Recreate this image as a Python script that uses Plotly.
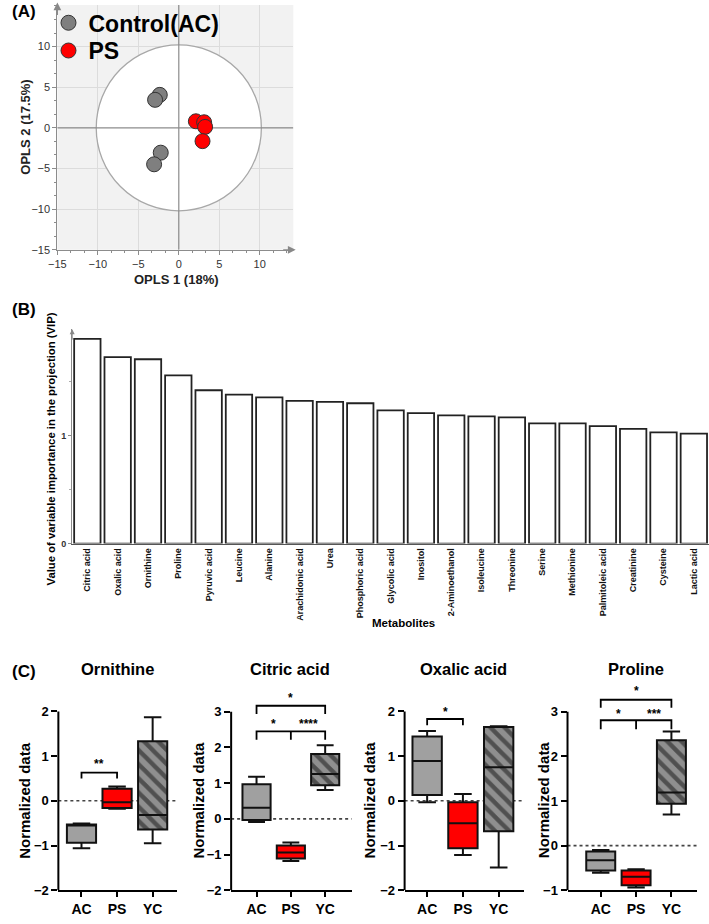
import plotly.graph_objects as go

W, H = 709, 924
FONT = "Arial, Liberation Sans, sans-serif"


def px(x):
    return x / W


def py(y):
    return 1 - y / H


# ---------------- Panel A: OPLS-DA score plot ----------------
ctrl_x = [-2.35, -2.93, -2.23, -3.05]
ctrl_y = [4.06, 3.45, -3.05, -4.48]
ps_x = [2.11, 3.13, 3.25, 2.93]
ps_y = [0.81, 0.69, 0.12, -1.63]
t2_radius = 10.2
a_ticks = [-15, -10, -5, 0, 5, 10]
a_xrange = [-15, 14.15]
a_yrange = [-15, 15.12]

# ---------------- Panel B: VIP ----------------
metabolites = ["Citric acid", "Oxalic acid", "Ornithine", "Proline", "Pyruvic acid",
               "Leucine", "Alanine", "Arachidonic acid", "Urea", "Phosphoric acid",
               "Glycolic acid", "Inositol", "2-Aminoethanol", "Isoleucine", "Threonine",
               "Serine", "Methionine", "Palmitoleic acid", "Creatinine", "Cysteine",
               "Lactic acid"]
vip = [1.895, 1.725, 1.706, 1.556, 1.419, 1.379, 1.354, 1.321, 1.312, 1.299,
       1.232, 1.208, 1.186, 1.177, 1.168, 1.113, 1.113, 1.088, 1.061, 1.030, 1.018]

# ---------------- Panel C: box plots ----------------
groups = ["AC", "PS", "YC"]

orn_lo = [-1.06, -0.18, -0.95]
orn_q1 = [-0.94, -0.16, -0.64]
orn_med = [-0.55, -0.03, -0.32]
orn_q3 = [-0.53, 0.27, 1.33]
orn_hi = [-0.51, 0.32, 1.87]

cit_lo = [-0.09, -1.18, 0.81]
cit_q1 = [-0.03, -1.11, 0.94]
cit_med = [0.31, -0.94, 1.26]
cit_q3 = [0.97, -0.75, 1.82]
cit_hi = [1.18, -0.66, 2.06]

oxa_lo = [-0.03, -1.21, -1.49]
oxa_q1 = [0.13, -1.06, -0.68]
oxa_med = [0.89, -0.50, 0.75]
oxa_q3 = [1.44, -0.03, 1.65]
oxa_hi = [1.56, 0.15, 1.67]

pro_lo = [-0.61, -0.94, 0.70]
pro_q1 = [-0.56, -0.89, 0.94]
pro_med = [-0.33, -0.70, 1.19]
pro_q3 = [-0.13, -0.56, 2.36]
pro_hi = [-0.10, -0.53, 2.56]

# significance brackets: (legs x list, leg bottom, bracket top)
orn_brackets = [([0, 1], 0.50, 0.63)]
orn_stars = [(0.5, 0.82, "**")]
cit_brackets = [([0, 2], 2.94, 3.17), ([0, 1, 2], 2.22, 2.45)]
cit_stars = [(1, 3.40, "*"), (0.5, 2.66, "*"), (1.5, 2.66, "****")]
oxa_brackets = [([0, 1], 1.69, 1.83)]
oxa_stars = [(0.5, 1.98, "*")]
pro_brackets = [([0, 2], 3.09, 3.27), ([0, 1, 2], 2.61, 2.81)]
pro_stars = [(1, 3.46, "*"), (0.5, 2.95, "*"), (1.5, 2.95, "***")]

fig = go.Figure()
shapes = []
annotations = []


def label(x, y, text, size, angle=0, color="black", xanchor="center"):
    return dict(xref="paper", yref="paper", x=px(x), y=py(y), text=text, textangle=angle,
                xanchor=xanchor, yanchor="middle", showarrow=False,
                font=dict(size=size, color=color, family=FONT))


# ---- Panel A traces ----
fig.add_trace(go.Scatter(x=ctrl_x, y=ctrl_y, mode="markers", name="<b>Control(AC)</b>",
                         marker=dict(size=15, color="#7f7f7f", line=dict(color="#333333", width=1)),
                         xaxis="x", yaxis="y", hoverinfo="skip", legend="legend"))
fig.add_trace(go.Scatter(x=ps_x, y=ps_y, mode="markers", name="<b>PS</b>",
                         marker=dict(size=15, color="#ff0000", line=dict(color="#333333", width=1)),
                         xaxis="x", yaxis="y", hoverinfo="skip", legend="legend2"))

shapes.append(dict(type="rect", xref="x domain", yref="y domain", x0=0, x1=1, y0=0, y1=1,
                   fillcolor="#f2f2f2", line=dict(width=0), layer="below"))
shapes.append(dict(type="circle", xref="x", yref="y", x0=-t2_radius, x1=t2_radius,
                   y0=-t2_radius, y1=t2_radius, fillcolor="white",
                   line=dict(color="#a8a8a8", width=1.3), layer="between"))
shapes.append(dict(type="line", xref="x", yref="y", x0=0, x1=0, y0=a_yrange[0], y1=a_yrange[1],
                   line=dict(color="#8c8c8c", width=1.2), layer="between"))
shapes.append(dict(type="line", xref="x", yref="y", x0=a_xrange[0], x1=a_xrange[1], y0=0, y1=0,
                   line=dict(color="#8c8c8c", width=1.2), layer="between"))
annotations.append(dict(xref="x domain", yref="y domain", x=1.01, y=0, ax=-14, ay=0, text="",
                        showarrow=True, arrowhead=2, arrowsize=1.3, arrowwidth=1.2, arrowcolor="#888888"))
annotations.append(dict(xref="x domain", yref="y domain", x=0, y=1.01, ax=0, ay=14, text="",
                        showarrow=True, arrowhead=2, arrowsize=1.3, arrowwidth=1.2, arrowcolor="#888888"))

# ---- Panel B traces ----
fig.add_trace(go.Bar(x=metabolites, y=vip, xaxis="x2", yaxis="y2", width=0.87, showlegend=False,
                     marker=dict(color="white", line=dict(color="#222222", width=1.8)),
                     hoverinfo="skip"))
annotations.append(dict(xref="x2 domain", yref="y2 domain", x=0, y=1, ax=0, ay=12, text="",
                        showarrow=True, arrowhead=2, arrowsize=1, arrowwidth=1, arrowcolor="#888888"))

# ---- Panel C traces ----
c_panels = [
    ("Ornithine", orn_lo, orn_q1, orn_med, orn_q3, orn_hi, orn_brackets, orn_stars),
    ("Citric acid", cit_lo, cit_q1, cit_med, cit_q3, cit_hi, cit_brackets, cit_stars),
    ("Oxalic acid", oxa_lo, oxa_q1, oxa_med, oxa_q3, oxa_hi, oxa_brackets, oxa_stars),
    ("Proline", pro_lo, pro_q1, pro_med, pro_q3, pro_hi, pro_brackets, pro_stars),
]
# layout geometry (pixels) for each small panel
c_geom = [
    dict(left=50, right=170, xr=[-0.65, 2.68], yr=[-2, 2.612], yt=[-2, -1, 0, 1, 2], tx=110, lx=15),
    dict(left=225, right=347, xr=[-0.74, 2.77], yr=[-2, 3.778], yt=[-2, -1, 0, 1, 2, 3], tx=285, lx=191),
    dict(left=400.7, right=521.7, xr=[-0.63, 2.71], yr=[-2, 2.612], yt=[-2, -1, 0, 1, 2], tx=460, lx=365),
    dict(left=565.7, right=696.7, xr=[-0.94, 2.72], yr=[-1, 3.622], yt=[-1, 0, 1, 2, 3], tx=635, lx=541),
]
fills = ["#a0a0a0", "#ff0000", "rgba(0,0,0,0)"]
BOXW = 0.82

layout_axes = {}
for k, ((title, lo, q1, med, q3, hi, brackets, stars), g) in enumerate(zip(c_panels, c_geom)):
    n = k + 3
    xa, ya = f"x{n}", f"y{n}"
    # hatched YC box body
    fig.add_trace(go.Bar(x=[2], y=[q3[2] - q1[2]], base=[q1[2]], width=BOXW, xaxis=xa, yaxis=ya,
                         showlegend=False, hoverinfo="skip",
                         marker=dict(color="#8f8f8f", line=dict(width=0),
                                     pattern=dict(shape="\\", fgcolor="#111111", bgcolor="#8f8f8f",
                                                  size=10, solidity=0.45))))
    for i in range(3):
        fig.add_trace(go.Box(x=[i], q1=[q1[i]], median=[med[i]], q3=[q3[i]],
                             lowerfence=[lo[i]], upperfence=[hi[i]], width=BOXW, whiskerwidth=0.6,
                             fillcolor=fills[i], line=dict(color="#111111", width=2),
                             boxpoints=False, xaxis=xa, yaxis=ya, showlegend=False,
                             hoverinfo="skip", orientation="v"))
    layout_axes[f"xaxis{n}"] = dict(domain=[px(g["left"]), px(g["right"])], range=g["xr"],
                                    anchor=ya, showline=True, linecolor="black", linewidth=2,
                                    ticks="outside", ticklen=5, tickwidth=2, tickcolor="black",
                                    tickvals=[0, 1, 2], ticktext=groups, showgrid=False, zeroline=False,
                                    tickfont=dict(size=14, color="black", family=FONT, weight="bold"))
    layout_axes[f"yaxis{n}"] = dict(domain=[py(898), py(690)], range=g["yr"], anchor=xa,
                                    showline=False, ticks="outside", ticklen=6, tickwidth=2,
                                    tickcolor="black", tickvals=g["yt"], showgrid=False, zeroline=False,
                                    tickfont=dict(size=13, color="black", family=FONT, weight="bold"))
    # y axis line
    shapes.append(dict(type="line", xref=f"{xa} domain", yref=ya, x0=0, x1=0,
                       y0=g["yt"][0], y1=g["yt"][-1], line=dict(color="black", width=2)))
    # dotted zero line
    shapes.append(dict(type="line", xref=f"{xa} domain", yref=ya, x0=0, x1=1, y0=0, y1=0,
                       line=dict(color="#444444", width=1.6, dash="dot"), layer="below"))
    for legs, yb, yt in brackets:
        path = f"M {legs[0]},{yb} L {legs[0]},{yt} L {legs[-1]},{yt} L {legs[-1]},{yb}"
        for m in legs[1:-1]:
            path += f" M {m},{yt} L {m},{yb}"
        shapes.append(dict(type="path", xref=xa, yref=ya, path=path,
                           line=dict(color="black", width=1.8)))
    for sx, sy, st in stars:
        annotations.append(dict(xref=xa, yref=ya, x=sx, y=sy, text=f"<b>{st}</b>", showarrow=False,
                                xanchor="center", yanchor="middle",
                                font=dict(size=12, color="black", family=FONT)))
    annotations.append(label(g["tx"], 675, f"<b>{title}</b>", 16.5))
    annotations.append(label(g["lx"], 807, "<b>Normalized data</b>", 15, angle=-90))

# ---- text labels ----
annotations += [
    label(1, 12, "<b>(A)</b>", 17, xanchor="left"),
    label(1, 312, "<b>(B)</b>", 17, xanchor="left"),
    label(1, 677, "<b>(C)</b>", 17, xanchor="left"),
    label(170, 282, "<b>OPLS 1 (18%)</b>", 13, color="#222222"),
    label(17, 128, "<b>OPLS 2 (17.5%)</b>", 13, angle=-90, color="#222222"),
    label(43, 453, "<b>Value of variable importance in the projection (VIP)</b>", 11.3, angle=-90),
    label(400, 628, "<b>Metabolites</b>", 11.5),
]

legend_common = dict(xanchor="left", yanchor="middle", bgcolor="rgba(0,0,0,0)",
                     font=dict(size=23, color="black", family=FONT), itemsizing="trace",
                     tracegroupgap=0, itemwidth=30)

fig.update_layout(
    width=W, height=H, autosize=False,
    margin=dict(l=0, r=0, t=0, b=0),
    paper_bgcolor="white", plot_bgcolor="rgba(0,0,0,0)",
    font=dict(family=FONT),
    showlegend=True,
    legend=dict(x=px(40), y=py(23), **legend_common),
    legend2=dict(x=px(40), y=py(51), **legend_common),
    boxmode="overlay", barmode="overlay",
    xaxis=dict(domain=[px(49), px(288)], range=a_xrange, anchor="y", tickvals=a_ticks,
               showline=True, linecolor="#8c8c8c", linewidth=1.2, ticks="outside", ticklen=4,
               tickcolor="#8c8c8c", showgrid=True, gridcolor="#dcdcdc", gridwidth=1, zeroline=False,
               tickfont=dict(size=11, color="#333333", family=FONT),
               minor=dict(ticks="outside", ticklen=2, tick0=-15, dtick=5 / 3, tickcolor="#8c8c8c",
                          showgrid=False)),
    yaxis=dict(domain=[py(252), py(5)], range=a_yrange, anchor="x", tickvals=a_ticks,
               showline=True, linecolor="#8c8c8c", linewidth=1.2, ticks="outside", ticklen=4,
               tickcolor="#8c8c8c", showgrid=True, gridcolor="#dcdcdc", gridwidth=1, zeroline=False,
               tickfont=dict(size=11, color="#333333", family=FONT),
               minor=dict(ticks="outside", ticklen=2, tick0=-15, dtick=5 / 3, tickcolor="#8c8c8c",
                          showgrid=False)),
    xaxis2=dict(domain=[px(64), 1.0], range=[-0.5, 20.5], anchor="y2", type="category",
                showline=True, linecolor="#555555", linewidth=1.2, ticks="", tickangle=-90,
                showgrid=False, zeroline=False,
                tickfont=dict(size=9, color="#111111", family=FONT, weight="bold")),
    yaxis2=dict(domain=[py(548.3), py(332)], range=[0, 1.985], anchor="x2", tickvals=[0, 1],
                showline=True, linecolor="#8c8c8c", linewidth=1, ticks="outside", ticklen=3,
                tickcolor="#8c8c8c", showgrid=False, zeroline=False,
                tickfont=dict(size=9, color="#333333", family=FONT, weight="bold"),
                minor=dict(ticks="outside", ticklen=2, tick0=0, dtick=0.5, tickcolor="#aaaaaa")),
    shapes=shapes,
    annotations=annotations,
)
fig.update_layout(**layout_axes)

fig.write_html("out.html", config={"displayModeBar": False},
               post_script="document.body.style.margin='0';")
